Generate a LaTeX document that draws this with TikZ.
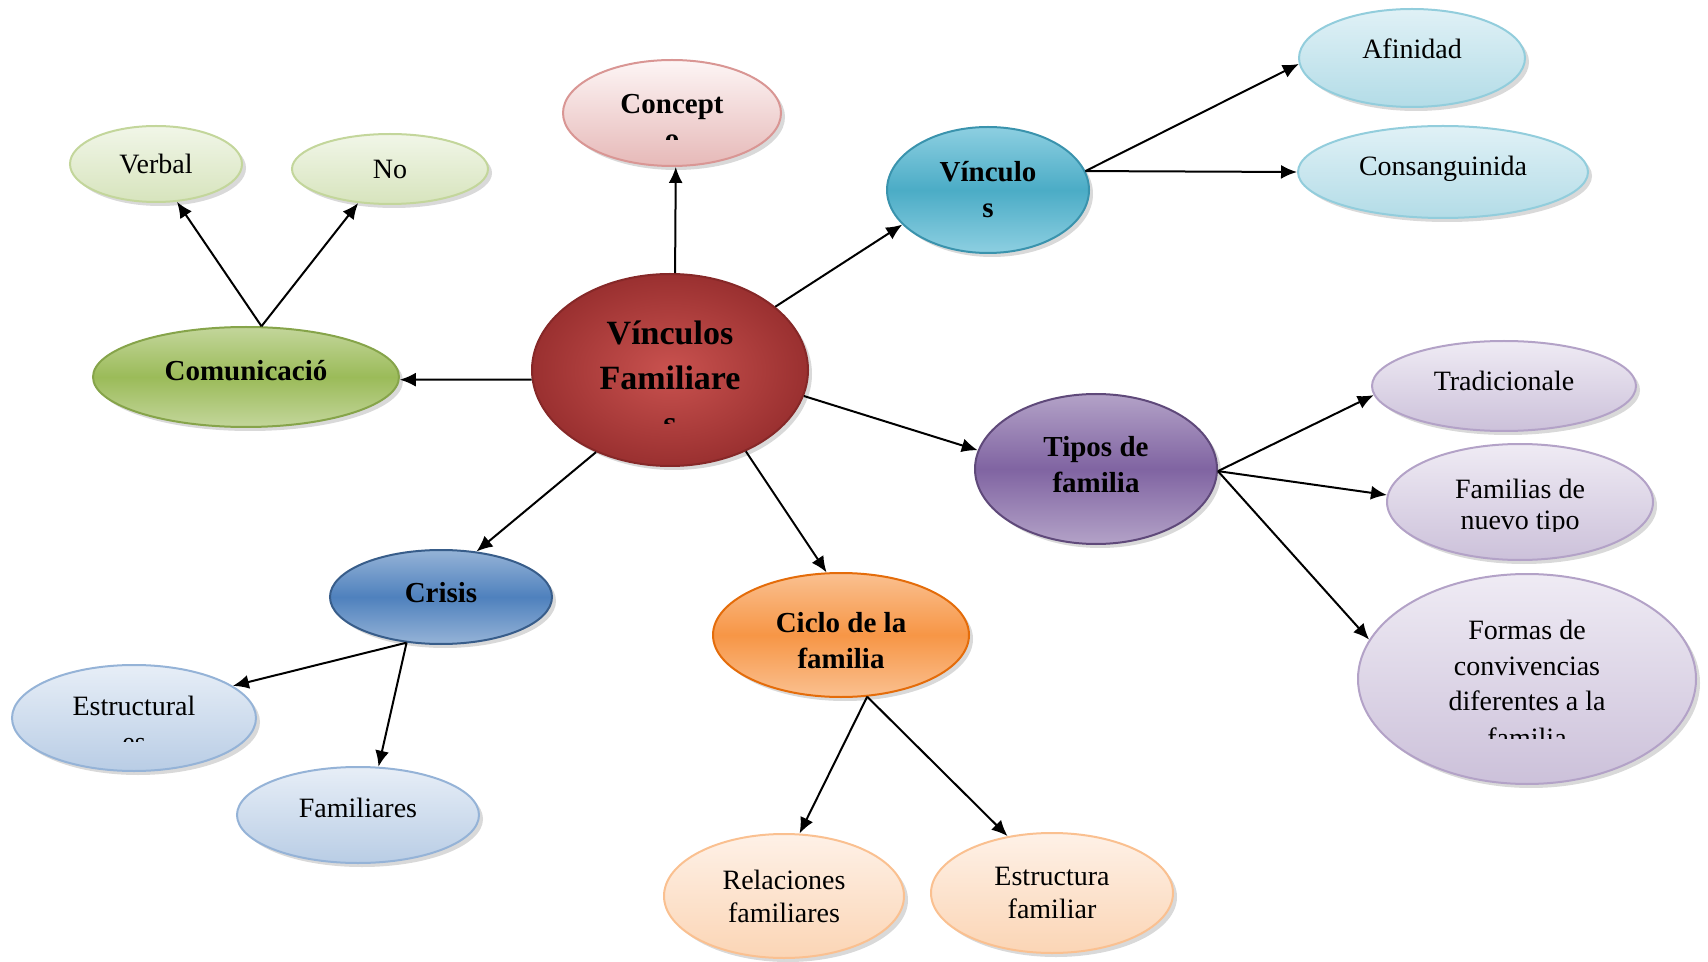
\documentclass[tikz,border=0pt]{standalone}
\usepackage{fontspec}
\setmainfont{Liberation Serif}
\usetikzlibrary{shapes.geometric}
\usetikzlibrary{shadows}
\usetikzlibrary{arrows.meta}
\usetikzlibrary{calc}

\definecolor{hubin}{HTML}{C9524F}
\definecolor{hubout}{HTML}{9A3030}
\definecolor{hubline}{HTML}{862828}
\definecolor{pinkline}{HTML}{D99694}
\definecolor{pinktop}{HTML}{FDF5F5}
\definecolor{pinkbot}{HTML}{E6B9B8}
\definecolor{cyanline}{HTML}{3A93AD}
\definecolor{cyanlite}{HTML}{8DCFE1}
\definecolor{cyanmid}{HTML}{4BACC6}
\definecolor{skyline}{HTML}{92CDDC}
\definecolor{skytop}{HTML}{E0F1F6}
\definecolor{skybot}{HTML}{B3DCE7}
\definecolor{greenline}{HTML}{86A44A}
\definecolor{greenlite}{HTML}{C3D69B}
\definecolor{greenmid}{HTML}{9BBB59}
\definecolor{mossline}{HTML}{C3D69B}
\definecolor{mosstop}{HTML}{F1F6E8}
\definecolor{mossbot}{HTML}{D7E4BD}
\definecolor{violine}{HTML}{5F497A}
\definecolor{violite}{HTML}{B3A2C7}
\definecolor{violmid}{HTML}{8064A2}
\definecolor{lilacline}{HTML}{B3A2C7}
\definecolor{lilactop}{HTML}{EFEBF4}
\definecolor{lilacbot}{HTML}{CCC1DA}
\definecolor{blueline}{HTML}{385D8A}
\definecolor{bluelite}{HTML}{95B3D7}
\definecolor{bluemid}{HTML}{4F81BD}
\definecolor{iceline}{HTML}{95B3D7}
\definecolor{icetop}{HTML}{E7EEF7}
\definecolor{icebot}{HTML}{B9CDE5}
\definecolor{orgline}{HTML}{E46C0A}
\definecolor{orglite}{HTML}{FAC090}
\definecolor{orgmid}{HTML}{F79646}
\definecolor{peachline}{HTML}{FAC090}
\definecolor{peachtop}{HTML}{FEF1E7}
\definecolor{peachbot}{HTML}{FBD5B5}

\newcommand\sinkby[1]{\raisebox{#1}{\vphantom{l}}}
\newcommand\liftby[1]{\raisebox{-#1}{\vphantom{l}}}

\tikzset{
    every edge/.style={
        draw,
        ->,>={Latex[length=8pt,width=7pt]},
        line width=1pt},
    bubble/.style={
        ellipse,
        line width=1pt,
        inner sep=0pt,
        align=center,
        drop shadow={shadow xshift=2pt,shadow yshift=-2pt,opacity=.3}},
    hub/.style={
        bubble,
        draw=hubline,
        inner color=hubin,
        outer color=hubout,
        font=\fontsize{17}{22.5}\selectfont\bfseries},
    topic/.style n args={3}{
        bubble,
        draw=#1,
        top color=#2,
        bottom color=#2,
        middle color=#3,
        font=\fontsize{14.5}{18}\selectfont\bfseries},
    leaf/.style n args={3}{
        bubble,
        draw=#1,
        top color=#2,
        bottom color=#3,
        font=\fontsize{14}{16.5}\selectfont},
    cut/.style={
        inner sep=0pt,
        anchor=base}}

\begin{document}
\begin{tikzpicture}[x=0.5pt,y=-0.5pt]
        \useasboundingbox (0,0) rectangle (1708,962);

        \node[hub,minimum width=138pt,minimum height=96pt] (vf) at (670,370) {\sinkby{8pt}V\'inculos\\Familiare\\\phantom{s}};

        \node[topic={pinkline}{pinktop}{pinkbot},bottom color=pinkbot,minimum width=109pt,minimum height=53pt] (concepto) at (672,113) {\sinkby{8.5pt}Concept\\\phantom{o}};
        \node[topic={cyanline}{cyanlite}{cyanmid},minimum width=101pt,minimum height=63pt] (vinc) at (988,190) {V\'inculo\\s};
        \node[topic={greenline}{greenlite}{greenmid},minimum width=153pt,minimum height=50pt] (comun) at (246,377) {Comunicaci\'o\liftby{6.5pt}};
        \node[topic={violine}{violite}{violmid},minimum width=121pt,minimum height=75pt] (tipos) at (1096,469) {Tipos de\\familia\liftby{4.4pt}};
        \node[topic={blueline}{bluelite}{bluemid},minimum width=111pt,minimum height=47pt] (crisis) at (441,597) {Crisis\liftby{4.4pt}};
        \node[topic={orgline}{orglite}{orgmid},minimum width=128pt,minimum height=62pt] (ciclo) at (841,635) {\sinkby{5.4pt}Ciclo de la\\familia};

        \node[leaf={skyline}{skytop}{skybot},minimum width=113pt,minimum height=49pt] (afin) at (1412,58) {Afinidad\liftby{9pt}};
        \node[leaf={skyline}{skytop}{skybot},minimum width=145pt,minimum height=46pt] (consang) at (1443,172) {Consanguinida\liftby{6.3pt}};

        \node[leaf={mossline}{mosstop}{mossbot},minimum width=86pt,minimum height=38pt] (verbal) at (156,164) {Verbal};
        \node[leaf={mossline}{mosstop}{mossbot},minimum width=98pt,minimum height=35pt] (noverb) at (390,169) {No};

        \node[leaf={lilacline}{lilactop}{lilacbot},minimum width=132pt,minimum height=45pt] (trad) at (1504,386) {Tradicionale\liftby{5.5pt}};
        \node[leaf={lilacline}{lilactop}{lilacbot},minimum width=133pt,minimum height=58pt] (nuevo) at (1520,502) {\sinkby{6pt}Familias de\\\phantom{nuevo tipo}};
        \node[leaf={lilacline}{lilactop}{lilacbot},minimum width=169pt,minimum height=105pt,font=\fontsize{14}{17.8}\selectfont] (formas) at (1527,679) {\sinkby{4.4pt}Formas de\\convivencias\\diferentes a la\\\phantom{familia}};

        \node[leaf={iceline}{icetop}{icebot},minimum width=122pt,minimum height=53pt] (estruct) at (134,718) {\sinkby{4.4pt}Estructural\\\phantom{es}};
        \node[leaf={iceline}{icetop}{icebot},minimum width=121pt,minimum height=48pt] (famil) at (358,815) {Familiares\liftby{7.6pt}};

        \node[leaf={peachline}{peachtop}{peachbot},minimum width=120pt,minimum height=62pt] (relac) at (784,896) {Relaciones\\familiares};
        \node[leaf={peachline}{peachtop}{peachbot},minimum width=121pt,minimum height=60pt] (estfam) at (1052,893) {Estructura\\familiar};

        % last lines cut off by the bubbles
        \begin{scope}
            \clip ($(vf.center)+(-80,0)$) rectangle ($(vf.center)+(80,54)$);
            \node[cut,font=\fontsize{17}{22.5}\selectfont\bfseries] (vf-s) at ($(vf.center)+(0,65)$) {s};
        \end{scope}
        \begin{scope}
            \clip ($(concepto.center)+(-60,0)$) rectangle ($(concepto.center)+(60,27)$);
            \node[cut,font=\fontsize{14.5}{18}\selectfont\bfseries] (concepto-o) at ($(concepto.center)+(0,36)$) {o};
        \end{scope}
        \begin{scope}
            \clip ($(estruct.center)+(-80,0)$) rectangle ($(estruct.center)+(80,23)$);
            \node[cut,font=\fontsize{14}{16.5}\selectfont] (estruct-es) at ($(estruct.center)+(0,33)$) {es};
        \end{scope}
        \begin{scope}
            \clip ($(nuevo.center)+(-90,0)$) rectangle ($(nuevo.center)+(90,29)$);
            \node[cut,font=\fontsize{14}{16.5}\selectfont] (nuevo-tipo) at ($(nuevo.center)+(0,28)$) {nuevo tipo};
        \end{scope}
        \begin{scope}
            \clip ($(formas.center)+(-90,0)$) rectangle ($(formas.center)+(90,59)$);
            \node[cut,font=\fontsize{14}{17.8}\selectfont] (formas-fam) at ($(formas.center)+(0,68)$) {familia};
        \end{scope}

        \draw (vf.87) edge (concepto.274);
        \draw (vf.31) edge (vinc.202);
        \draw (vf.184) edge (comun.359);
        \draw (vf.349) edge (tipos.171);
        \draw (vf.228) edge (crisis.52);
        \draw (vf.313) edge (ciclo.103);

        \draw (comun.73) edge (verbal.299);
        \draw (comun.73) edge (noverb.227);

        \draw (vinc.11) edge (afin.183);
        \draw (vinc.11) edge (consang.180);

        \draw (tipos.359) edge (trad.184);
        \draw (tipos.359) edge (nuevo.177);
        \draw (tipos.359) edge (formas.166);

        \draw (crisis.233) edge (estruct.18);
        \draw (crisis.233) edge (famil.67);

        \draw (ciclo.293) edge (relac.76);
        \draw (ciclo.293) edge (estfam.128);
    \end{tikzpicture}
\end{document}
